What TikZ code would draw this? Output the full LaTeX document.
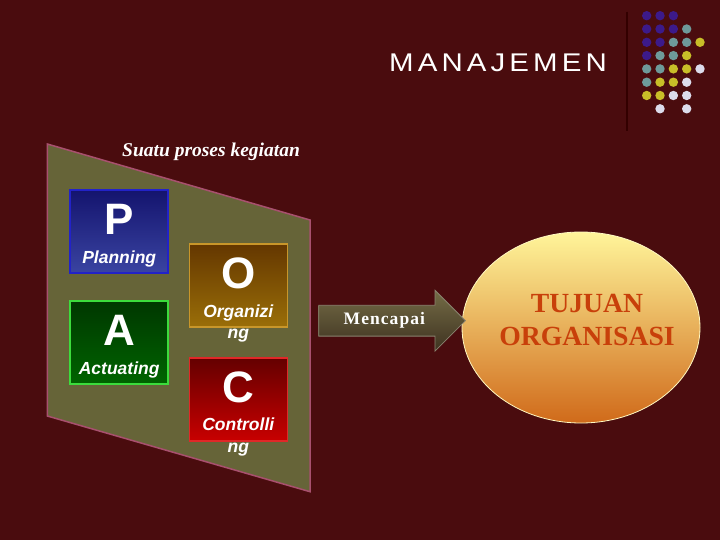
\documentclass[tikz,border=0pt]{standalone}
\usepackage{fontspec}
\setmainfont{Liberation Serif}
\newfontfamily\arialfont{Liberation Sans}
\newfontfamily\trackedarial[LetterSpace=16, FakeStretch=1.15]{Liberation Sans}
\newfontfamily\trackedserif[LetterSpace=6]{Liberation Serif}
\usetikzlibrary{shapes.arrows, shapes.geometric}
\definecolor{bgmaroon}{HTML}{4A0C0E}
\definecolor{olivepanel}{HTML}{666438}
\definecolor{panelrim}{HTML}{A8506E}
\definecolor{dotpurple}{HTML}{3C1A8A}
\definecolor{dotteal}{HTML}{6E9A9A}
\definecolor{dotyellow}{HTML}{C8BE28}
\definecolor{dotwhite}{HTML}{DCDCEB}
\definecolor{goaltext}{HTML}{C8400A}
\definecolor{plantop}{HTML}{14146E}
\definecolor{planbot}{HTML}{3A44A2}
\definecolor{planrim}{HTML}{2222C8}
\definecolor{acttop}{HTML}{003700}
\definecolor{actbot}{HTML}{006400}
\definecolor{actrim}{HTML}{3CDC3C}
\definecolor{orgtop}{HTML}{643700}
\definecolor{orgbot}{HTML}{9A6E08}
\definecolor{orgrim}{HTML}{C8962A}
\definecolor{ctrltop}{HTML}{640000}
\definecolor{ctrlbot}{HTML}{C80000}
\definecolor{ctrlrim}{HTML}{E02828}
\definecolor{reachtop}{HTML}{746C46}
\definecolor{reachbot}{HTML}{3E3220}
\definecolor{reachrim}{HTML}{8A8470}
\definecolor{goaltop}{HTML}{FFF59A}
\definecolor{goalmid}{HTML}{E2B26E}
\definecolor{goalbot}{HTML}{D06A1A}
\tikzset{
	stage/.style = {draw, line width=1.6pt, minimum width=98pt, minimum height=83pt, inner sep=0pt},
	bigletter/.style = {text=white, inner sep=0pt, anchor=base,
		font=\arialfont\bfseries\fontsize{44}{44}\selectfont},
	stagename/.style = {text=white, inner sep=0pt, anchor=base, align=center,
		font=\arialfont\bfseries\itshape\fontsize{17.5}{21.5}\selectfont},
	reacharrow/.style = {single arrow, draw=reachrim, line width=0.8pt,
		top color=reachtop, bottom color=reachbot,
		minimum height=146.7pt, single arrow head extend=15pt,
		text height=11.5pt, text depth=3.5pt, inner ysep=7.5pt,
		text=white, font=\trackedserif\bfseries\fontsize{17.5}{17.5}\selectfont},
	goal/.style = {ellipse, draw=goaltop!60!white, line width=0.8pt,
		minimum width=238pt, minimum height=191pt, inner sep=0pt,
		top color=goaltop, middle color=goalmid, bottom color=goalbot}
}
\begin{document}
\begin{tikzpicture}[x=1pt, y=-1pt]
	\useasboundingbox (0, 0) rectangle (720, 540);
	\fill [bgmaroon] (0, 0) rectangle (720, 540);
	\draw [line width=1.5pt, black!80!red] (627, 12) -- (627, 131);
	\foreach \c/\r/\clr in {0/0/dotpurple, 1/0/dotpurple, 2/0/dotpurple,
		0/1/dotpurple, 1/1/dotpurple, 2/1/dotpurple, 3/1/dotteal,
		0/2/dotpurple, 1/2/dotpurple, 2/2/dotteal, 3/2/dotteal, 4/2/dotyellow,
		0/3/dotpurple, 1/3/dotteal, 2/3/dotteal, 3/3/dotyellow,
		0/4/dotteal, 1/4/dotteal, 2/4/dotyellow, 3/4/dotyellow, 4/4/dotwhite,
		0/5/dotteal, 1/5/dotyellow, 2/5/dotyellow, 3/5/dotwhite,
		0/6/dotyellow, 1/6/dotyellow, 2/6/dotwhite, 3/6/dotwhite,
		1/7/dotwhite, 3/7/dotwhite}
	{
		\fill [\clr] ({646.7+13.33*\c}, {15.7+13.3*\r}) circle (4.7);
	}
	\node [anchor=base west, inner sep=0pt, text=white,
		font=\trackedarial\fontsize{25.6}{25.6}\selectfont] (title) at (389, 71.5) {MANAJEMEN};
	\draw [fill=olivepanel, draw=panelrim, line width=1.5pt]
		(47.3, 144) -- (310, 220) -- (310, 491.7) -- (47.3, 416) -- cycle;
	\node [anchor=base west, inner sep=0pt, text=white,
		font=\bfseries\itshape\fontsize{19.5}{19.5}\selectfont] (process) at (122, 157) {Suatu proses kegiatan};
	\node [stage, draw=planrim, top color=plantop, bottom color=planbot] (plan) at (119.2, 231.7) {};
	\node [stage, draw=actrim, top color=acttop, bottom color=actbot] (act) at (119.2, 342.4) {};
	\node [stage, draw=orgrim, top color=orgtop, bottom color=orgbot] (org) at (238.3, 285.3) {};
	\node [stage, draw=ctrlrim, top color=ctrltop, bottom color=ctrlbot] (ctrl) at (238.3, 399.2) {};
	\node [bigletter] (pl) at ([yshift=-45.3pt]plan.north) {P};
	\node [bigletter] (al) at ([yshift=-45.3pt]act.north) {A};
	\node [bigletter] (ol) at ([yshift=-45.3pt]org.north) {O};
	\node [bigletter] (cl) at ([yshift=-45.3pt]ctrl.north) {C};
	\node [stagename] (pn) at ([yshift=-74pt]plan.north) {Planning};
	\node [stagename] (an) at ([yshift=-74pt]act.north) {Actuating};
	\node [stagename] (on) at ([yshift=-95.5pt]org.north) {Organizi\\ng};
	\node [stagename] (cn) at ([yshift=-95.5pt]ctrl.north) {Controlli\\ng};
	\node [goal] (target) at (581, 327.5) {};
	\node [reacharrow, anchor=tail] (reach) at (318.3, 320.7) {Mencapai};
	\node [align=center, text=goaltext, inner sep=0pt,
		font=\bfseries\fontsize{27.7}{33.4}\selectfont] (goalname) at (587, 320) {TUJUAN\\ORGANISASI};
\end{tikzpicture}
\end{document}
